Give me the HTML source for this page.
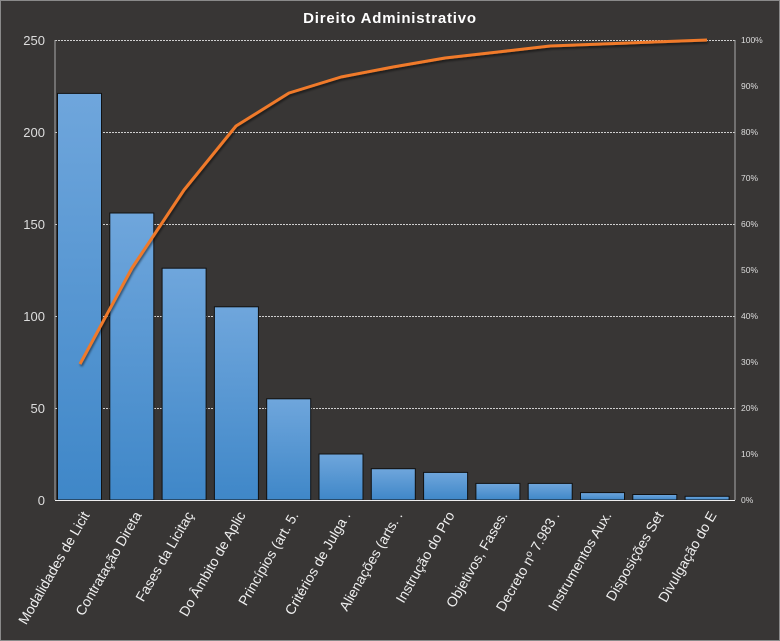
<!DOCTYPE html>
<html><head><style>body{margin:0;background:#383635}svg{display:block}</style></head><body>
<svg width="780" height="641" xmlns="http://www.w3.org/2000/svg" font-family="Liberation Sans, DejaVu Sans, sans-serif">
<defs><linearGradient id="g" x1="0" y1="0" x2="0" y2="1"><stop offset="0" stop-color="#6fa6dc"/><stop offset="1" stop-color="#3f87c8"/></linearGradient>
<filter id="s"><feDropShadow dx="1" dy="2" stdDeviation="1" flood-color="#000" flood-opacity="0.5"/></filter></defs>
<rect x="0.5" y="0.5" width="779" height="640" fill="#383635" stroke="#8a8a8a"/>
<text x="390" y="23" fill="#fff" font-size="15" font-weight="bold" text-anchor="middle" letter-spacing="0.8">Direito  Administrativo</text>
<g stroke="#cfcfcf" stroke-width="1" stroke-dasharray="2,1">
<line x1="55" y1="40.5" x2="735" y2="40.5"/><line x1="55" y1="132.5" x2="735" y2="132.5"/><line x1="55" y1="224.5" x2="735" y2="224.5"/><line x1="55" y1="316.5" x2="735" y2="316.5"/><line x1="55" y1="408.5" x2="735" y2="408.5"/></g>
<line x1="55" y1="40" x2="55" y2="500" stroke="#aaa"/>
<line x1="735" y1="40" x2="735" y2="500" stroke="#aaa"/>
<g fill="#ddd" font-size="13" text-anchor="end">
<text x="45" y="45">250</text><text x="45" y="137">200</text><text x="45" y="229">150</text><text x="45" y="321">100</text><text x="45" y="413">50</text><text x="45" y="505">0</text></g>
<g fill="#ddd" font-size="8.5">
<text x="741" y="43">100%</text><text x="741" y="89">90%</text><text x="741" y="135">80%</text><text x="741" y="181">70%</text><text x="741" y="227">60%</text><text x="741" y="273">50%</text><text x="741" y="319">40%</text><text x="741" y="365">30%</text><text x="741" y="411">20%</text><text x="741" y="457">10%</text><text x="741" y="503">0%</text></g>
<g fill="url(#g)" stroke="#111" stroke-width="1">
<rect x="57.5" y="93.4" width="44" height="406.6"/>
<rect x="109.8" y="213" width="44" height="287"/>
<rect x="162.1" y="268.2" width="44" height="231.8"/>
<rect x="214.4" y="306.8" width="44" height="193.2"/>
<rect x="266.7" y="398.8" width="44" height="101.2"/>
<rect x="319" y="454" width="44" height="46"/>
<rect x="371.3" y="468.7" width="44" height="31.3"/>
<rect x="423.6" y="472.4" width="44" height="27.6"/>
<rect x="475.9" y="483.4" width="44" height="16.6"/>
<rect x="528.2" y="483.4" width="44" height="16.6"/>
<rect x="580.5" y="492.6" width="44" height="7.4"/>
<rect x="632.8" y="494.5" width="44" height="5.5"/>
<rect x="685.1" y="496.3" width="44" height="3.7"/></g>
<line x1="55" y1="500.5" x2="735" y2="500.5" stroke="#eee"/>
<polyline filter="url(#s)" fill="none" stroke="#f07a2a" stroke-width="3" stroke-linejoin="round" points="80,364 132,268 184,190 236,126 289,93 341,77 393,67 445,58 498,52 550,46 602,44 654,42 707,40"/>
<g fill="#eee" font-size="14" text-anchor="end">
<text transform="translate(90,515) rotate(-60)">Modalidades de Licit</text>
<text transform="translate(142,515) rotate(-60)">Contratação Direta</text>
<text transform="translate(194,515) rotate(-60)">Fases da Licitaç</text>
<text transform="translate(246,515) rotate(-60)">Do Âmbito de Aplic</text>
<text transform="translate(299,515) rotate(-60)">Princípios (art. 5.</text>
<text transform="translate(351,515) rotate(-60)">Critérios de Julga .</text>
<text transform="translate(403,515) rotate(-60)">Alienações (arts. .</text>
<text transform="translate(455,515) rotate(-60)">Instrução do Pro</text>
<text transform="translate(508,515) rotate(-60)">Objetivos, Fases.</text>
<text transform="translate(560,515) rotate(-60)">Decreto nº 7.983 .</text>
<text transform="translate(612,515) rotate(-60)">Instrumentos Aux.</text>
<text transform="translate(664,515) rotate(-60)">Disposições Set</text>
<text transform="translate(717,515) rotate(-60)">Divulgação do E</text></g>
</svg></body></html>
